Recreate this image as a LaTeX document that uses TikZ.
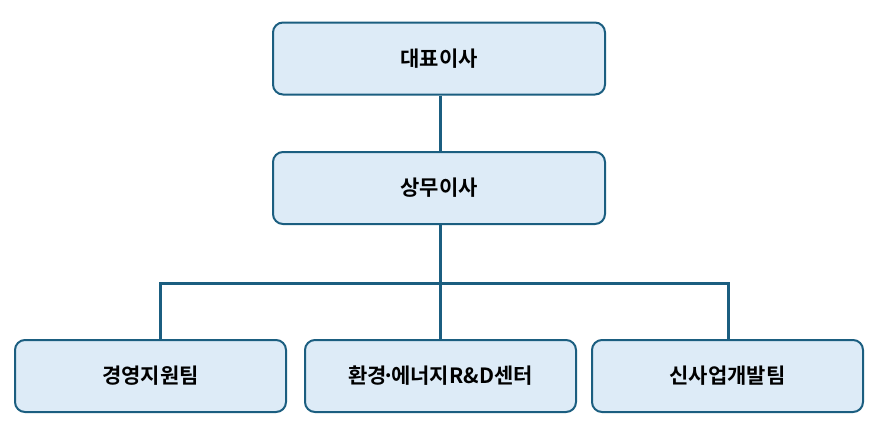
\documentclass[tikz,border=0pt]{standalone}
\usepackage{fontspec}
\newfontfamily\kr{Noto Sans CJK KR Bold}
\definecolor{boxfill}{HTML}{DDEBF7}
\definecolor{boxline}{HTML}{1B5E80}
\begin{document}
\begin{tikzpicture}[x=1pt,y=-1pt,
  org/.style={draw=boxline,fill=boxfill,line width=2pt,rounded corners=10pt,
    minimum width=#1,minimum height=72pt,inner sep=0pt,font=\kr\fontsize{21}{24}\selectfont},
  conn/.style={draw=boxline,line width=3pt}]
\useasboundingbox (0,0) rectangle (877,426);
\node[org=332pt] (ceo) at (439,58.5) {대표이사};
\node[org=332pt] (exec) at (439,188) {상무이사};
\node[org=271pt] (mgmt) at (150.5,376) {경영지원팀};
\node[org=271pt] (rnd) at (440.5,376) {환경{\kern-4pt}·{\kern-4pt}에너지R\&D센터};
\node[org=271pt] (new) at (727.5,376) {신사업개발팀};
\coordinate (bl) at (160,283);
\coordinate (br) at (728,283);
\draw[conn] (ceo.south -| 440,0) -- (exec.north -| 440,0);
\draw[conn] (exec.south -| 440,0) -- (rnd.north -| 440,0);
\draw[conn] (bl |- mgmt.north) -- (bl) -- (br) -- (br |- new.north);
\end{tikzpicture}
\end{document}
